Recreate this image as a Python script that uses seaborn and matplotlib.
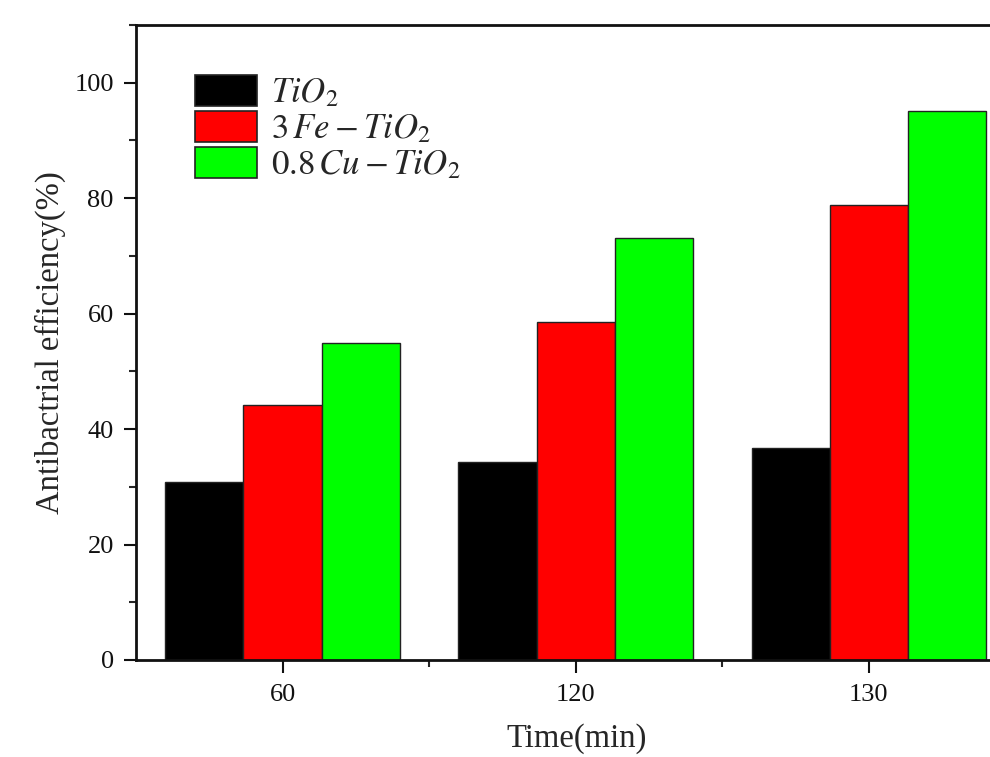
import matplotlib
matplotlib.use("Agg")
import matplotlib.pyplot as plt
import seaborn as sns
import pandas as pd
from matplotlib.ticker import MultipleLocator, FixedLocator

## chart data
times = ["60", "120", "130"]
samples = [r"$TiO_2$", r"$3\,Fe-TiO_2$", r"$0.8\,Cu-TiO_2$"]
tio2 = [30.8, 34.3, 36.7]
fe_tio2 = [44.2, 58.6, 78.9]
cu_tio2 = [54.9, 73.1, 95.1]
colors = ["#000000", "#ff0000", "#00ff00"]

df = pd.DataFrame({
    "time": times * 3,
    "sample": [samples[0]] * 3 + [samples[1]] * 3 + [samples[2]] * 3,
    "eff": tio2 + fe_tio2 + cu_tio2,
})

sns.set_style("ticks")
plt.rcParams["font.family"] = ["Liberation Serif", "DejaVu Serif"]
plt.rcParams["mathtext.fontset"] = "stix"

fig = plt.figure(figsize=(9.9, 7.57), dpi=100)
ax = fig.add_axes([136 / 990, 97 / 757, 879.5 / 990, 635 / 757])

sns.barplot(data=df, x="time", y="eff", hue="sample", palette=colors,
            width=0.8, edgecolor="#222222", linewidth=1.0, saturation=1,
            ax=ax)

ax.set_xlim(-0.5, 2.5)
ax.set_ylim(0, 110)
ax.yaxis.set_major_locator(MultipleLocator(20))
ax.yaxis.set_minor_locator(MultipleLocator(10))
ax.xaxis.set_minor_locator(FixedLocator([0.5, 1.5]))
ax.tick_params(axis="both", which="major", direction="out", length=9,
               width=1.5, labelsize=19, colors="#111111")
ax.tick_params(axis="x", which="major", pad=8)
ax.tick_params(axis="y", which="major", pad=7)
ax.tick_params(axis="both", which="minor", direction="out", length=5,
               width=1.5)
ax.set_xlabel("Time(min)", fontsize=23.5)
ax.set_ylabel("Antibactrial efficiency(%)", fontsize=23.5)
ax.xaxis.set_label_coords(0.501, -0.1)
ax.yaxis.set_label_coords(-0.08, 0.5)

for s in ["left", "bottom", "top", "right"]:
    ax.spines[s].set_visible(True)
    ax.spines[s].set_linewidth(2)
    ax.spines[s].set_color("#111111")

leg = ax.legend(loc="upper left", bbox_to_anchor=(0.067, 0.922), frameon=False,
                fontsize=25, handlelength=1.78, handleheight=1.0,
                handletextpad=0.4, labelspacing=0.02, borderaxespad=0,
                borderpad=0)
for h in leg.legend_handles:
    h.set_edgecolor("#222222")
    h.set_linewidth(1.2)

fig.savefig("out.png", dpi=100)
